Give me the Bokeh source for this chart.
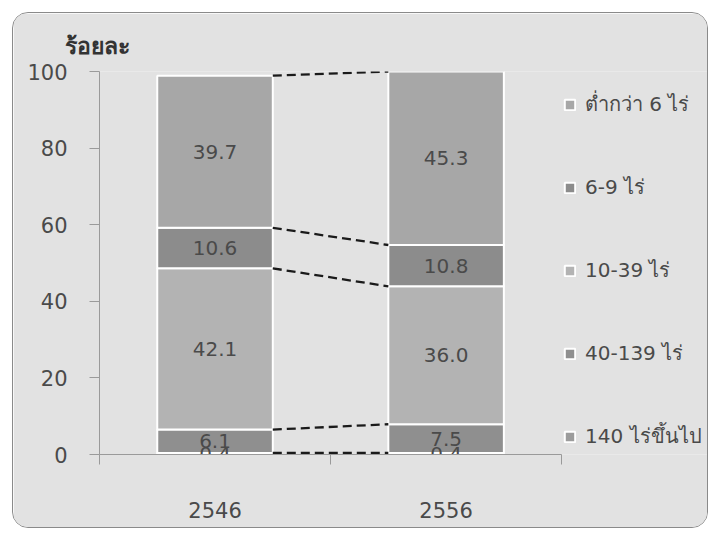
from bokeh.plotting import figure
from bokeh.models import ColumnDataSource, Range1d, FixedTicker, Legend, LegendItem
from bokeh.embed import file_html
from bokeh.resources import INLINE

# ---- data ----
years = ["2546", "2556"]
# stack order bottom -> top
groups = ["140 ไร่ขึ้นไป", "40-139 ไร่", "10-39 ไร่", "6-9 ไร่", "ต่ำกว่า 6 ไร่"]
v_140_up = [0.4, 0.4]
v_40_139 = [6.1, 7.5]
v_10_39 = [42.1, 36.0]
v_6_9 = [10.6, 10.8]
v_below_6 = [39.7, 45.3]
series = [v_140_up, v_40_139, v_10_39, v_6_9, v_below_6]
colors = ["#9c9c9c", "#8f8f8f", "#b3b3b3", "#8c8c8c", "#a7a7a7"]
y_ticks = [0, 20, 40, 60, 80, 100]
y_title = "ร้อยละ"

FONT = "Tahoma, 'DejaVu Sans', sans-serif"
TXT = "#4a4a4a"
AX = "#9a9a9a"
BG = "#e2e2e2"

x_pos = [i + 0.5 for i in range(len(years))]
bar_w = 0.5
x_end = 2.64  # extra room on the right of the frame for the legend

data = {"x": x_pos}
keys = []
for i, s in enumerate(series):
    k = "s%d" % i
    keys.append(k)
    data[k] = s
src = ColumnDataSource(data)

p = figure(width=696, height=516, output_backend="svg", toolbar_location=None,
           x_range=Range1d(0, x_end), y_range=Range1d(0, 100),
           min_border_left=86, min_border_right=0, min_border_top=58,
           min_border_bottom=75, title=y_title)
p.background_fill_color = BG
p.border_fill_color = BG
p.outline_line_color = None
p.xgrid.visible = False
p.ygrid.visible = False
p.styles = {"border": "1.5px solid #8a8a8a", "border-radius": "16px",
            "overflow": "hidden", "margin-left": "12px", "margin-top": "12px"}

p.title.text_font_size = "23px"
p.title.text_font_style = "bold"
p.title.text_color = "#333333"
p.title.text_font = FONT
p.title.align = "left"
p.title.offset = -35
p.title.standoff = 26

rs = p.vbar_stack(keys, x="x", width=bar_w, source=src, color=colors,
                  line_color="white", line_width=2)

# connectors between stacks
cum = [[0.0] * len(years)]
for s in series:
    cum.append([cum[-1][j] + s[j] for j in range(len(years))])
x0 = [x_pos[0] + bar_w / 2] * len(series)
x1 = [x_pos[1] - bar_w / 2] * len(series)
y0 = [cum[i + 1][0] for i in range(len(series))]
y1 = [cum[i + 1][1] for i in range(len(series))]
p.segment(x0=x0, y0=y0, x1=x1, y1=y1, line_color="#1a1a1a", line_width=2.3,
          line_dash="9 5")

# value labels
lx, ly, lt = [], [], []
for i, s in enumerate(series):
    for j in range(len(years)):
        lx.append(x_pos[j])
        ly.append(cum[i][j] + s[j] / 2)
        lt.append("%.1f" % s[j])
p.text(x=lx, y=ly, text=lt, text_align="center", text_baseline="middle",
       text_font_size="20px", text_color=TXT, text_font={"value": FONT})

# axes
p.yaxis.ticker = FixedTicker(ticks=y_ticks)
p.yaxis.major_tick_out = 10
p.yaxis.major_tick_in = 0
p.yaxis.minor_tick_out = 0
p.yaxis.minor_tick_in = 0
p.yaxis.axis_line_color = AX
p.yaxis.major_tick_line_color = AX
p.yaxis.major_label_standoff = 22
p.yaxis.major_label_text_font_size = "21px"
p.yaxis.major_label_text_color = TXT
p.yaxis.major_label_text_font = FONT

p.xaxis.ticker = FixedTicker(ticks=x_pos, minor_ticks=list(range(len(years) + 1)))
p.xaxis.bounds = (0, len(years))
p.xaxis.major_label_overrides = {x_pos[j]: years[j] for j in range(len(years))}
p.xaxis.major_tick_out = 0
p.xaxis.major_tick_in = 0
p.xaxis.minor_tick_out = 10
p.xaxis.minor_tick_in = 0
p.xaxis.axis_line_color = AX
p.xaxis.minor_tick_line_color = AX
p.xaxis.major_label_standoff = 37
p.xaxis.major_label_text_font_size = "21px"
p.xaxis.major_label_text_color = TXT
p.xaxis.major_label_text_font = FONT

# legend (top to bottom)
items = [LegendItem(label=groups[i], renderers=[rs[i]]) for i in reversed(range(len(groups)))]
legend = Legend(items=items, location=(464, 0), glyph_width=13, glyph_height=13,
                label_height=36, spacing=47, padding=0, margin=0,
                label_standoff=9, border_line_color=None, background_fill_alpha=0,
                label_text_font_size="20px", label_text_color=TXT,
                label_text_font=FONT)
p.add_layout(legend, "center")

open("out.html", "w").write(file_html(p, INLINE))
